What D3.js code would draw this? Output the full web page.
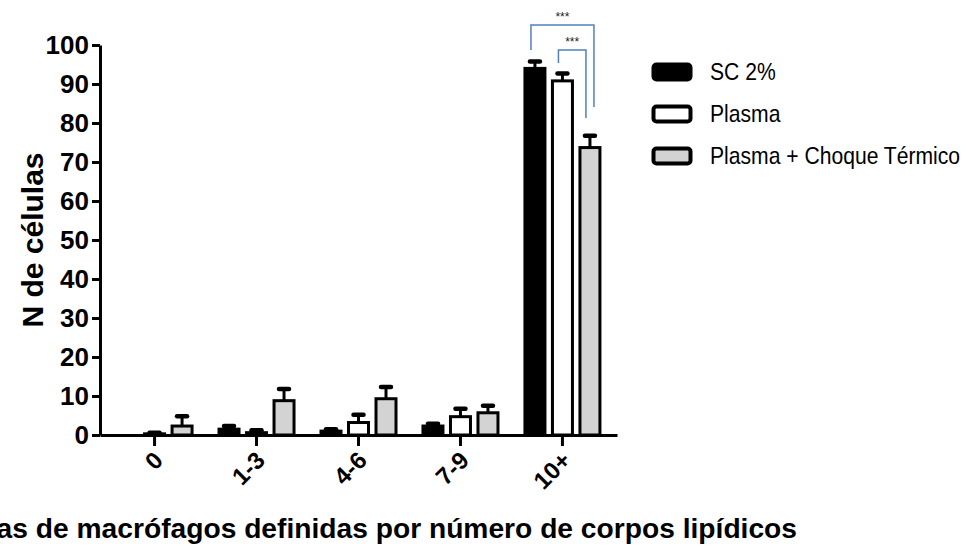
<!DOCTYPE html>
<html>
<head>
<meta charset="utf-8">
<script src="https://cdn.jsdelivr.net/npm/d3@7"></script>
<style>
  body { margin: 0; background: #fff; }
  svg { display: block; font-family: "Liberation Sans", Arial, sans-serif; }
</style>
</head>
<body>
<div id="chart"></div>
<script>

const categories = ["0", "1-3", "4-6", "7-9", "10+"]
const series = ["SC 2%", "Plasma", "Plasma + Choque Térmico"]
const yTicks = [0, 10, 20, 30, 40, 50, 60, 70, 80, 90, 100]

// mean values and error (upper only) per series
const sc2 = [0, 1.5, 1.0, 2.3, 94.0]
const sc2Err = [0, 0.8, 0.5, 0.6, 1.8]
const plasma = [0.3, 0.6, 3.2, 4.7, 90.8]
const plasmaErr = [0.3, 0.6, 2.0, 2.0, 1.9]
const choque = [2.3, 8.8, 9.3, 5.7, 73.7]
const choqueErr = [2.5, 3.0, 3.0, 1.8, 3.0]

const colors = ["#000000", "#ffffff", "#d3d3d3"]

const width = 976, height = 548

const svg = d3.select("#chart")
  .append("svg")
    .attr("width", width)
    .attr("height", height)

const x = d3.scaleBand()
  .domain(categories)
  .range([100, 617])
  .paddingInner(0)
  .paddingOuter(0.035)

const xSub = d3.scaleBand()
  .domain(series)
  .range([-37.5, 37.5])
  .paddingInner(0.273)

const y = d3.scaleLinear()
  .domain([0, 100])
  .range([435, 45])

const color = d3.scaleOrdinal().domain(series).range(colors)

// build rows from the arrays
const values = [sc2, plasma, choque]
const errs = [sc2Err, plasmaErr, choqueErr]
const rows = []
categories.forEach((c, i) => {
  series.forEach((s, j) => {
    rows.push({cat: c, key: s, value: values[j][i], err: errs[j][i]})
  })
})

// bars
const bars = svg.append("g")
bars.selectAll("g")
  .data(rows)
  .join("g")
    .attr("transform", d => `translate(${x(d.cat) + x.bandwidth() / 2 + xSub(d.key)},0)`)
  .each(function(d) {
    const g = d3.select(this)
    const bw = xSub.bandwidth()
    if (d.value > 0) {
      // error bar (upper only)
      g.append("line")
        .attr("x1", bw / 2).attr("x2", bw / 2)
        .attr("y1", y(d.value)).attr("y2", y(d.value + d.err))
        .attr("stroke", "#000").attr("stroke-width", 3)
      g.append("line")
        .attr("x1", bw / 2 - 5).attr("x2", bw / 2 + 5)
        .attr("y1", y(d.value + d.err)).attr("y2", y(d.value + d.err))
        .attr("stroke", "#000").attr("stroke-width", 4.5)
        .attr("stroke-linecap", "round")
      g.append("rect")
        .attr("x", 0)
        .attr("y", y(d.value))
        .attr("width", bw)
        .attr("height", y(0) - y(d.value))
        .attr("fill", color(d.key))
        .attr("stroke", "#000")
        .attr("stroke-width", 3)
    }
  })

// y axis
const yAxis = svg.append("g")
  .attr("transform", `translate(${x.range()[0]},0)`)
  .call(d3.axisLeft(y).tickValues(yTicks).tickSize(8).tickSizeOuter(0).tickPadding(3))
yAxis.selectAll("path, line").attr("stroke", "#000").attr("stroke-width", 3)
yAxis.selectAll("text")
  .attr("fill", "#000")
  .style("font-size", "26px")
  .style("font-weight", "bold")
  .style("font-family", "'Liberation Sans', Arial, sans-serif")

// x axis
const xAxis = svg.append("g")
  .attr("transform", `translate(0,${y(0)})`)
  .call(d3.axisBottom(x).tickSize(11).tickSizeOuter(0).tickFormat(""))
xAxis.selectAll("path, line").attr("stroke", "#000").attr("stroke-width", 3)

// rotated category labels
svg.append("g")
  .selectAll("text")
  .data(categories)
  .join("text")
    .attr("transform", d => `translate(${x(d) + x.bandwidth() / 2 - 2},${y(0) + 15}) rotate(-45)`)
    .attr("text-anchor", "end")
    .attr("dy", "0.7em")
    .style("font-size", "24px")
    .style("font-weight", "bold")
    .text(d => d)

// axis titles
svg.append("text")
  .attr("transform", "translate(43,240) rotate(-90)")
  .attr("text-anchor", "middle")
  .style("font-size", "30px")
  .style("font-weight", "bold")
  .text("N de células")

// the reference crops the start of this title at the left edge
svg.append("text")
  .attr("x", 797)
  .attr("y", 538)
  .attr("text-anchor", "end")
  .style("font-size", "28.2px")
  .style("font-weight", "bold")
  .text("Categorias de macrófagos definidas por número de corpos lipídicos")

// significance brackets
const cx = (cat, key) => x(cat) + x.bandwidth() / 2 + xSub(key) + xSub.bandwidth() / 2
const last = categories[categories.length - 1]
const brackets = [
  {from: series[0], to: series[2], top: 25, leftEnd: 50, rightEnd: 107, xl: -4, xr: 4},
  {from: series[1], to: series[2], top: 50, leftEnd: 63, rightEnd: 118, xl: -4, xr: -4}
]
brackets.forEach(b => {
  const x1 = cx(last, b.from) + b.xl, x2 = cx(last, b.to) + b.xr
  svg.append("path")
    .attr("d", `M${x1},${b.leftEnd}V${b.top}H${x2}V${b.rightEnd}`)
    .attr("fill", "none")
    .attr("stroke", "#4f81bd")
    .attr("stroke-width", 1.5)
  svg.append("text")
    .attr("x", (x1 + x2) / 2)
    .attr("y", b.top - 4)
    .attr("text-anchor", "middle")
    .style("font-size", "12px")
    .attr("fill", "#222")
    .text("***")
})

// legend
const legend = svg.append("g")
  .selectAll("g")
  .data(series)
  .join("g")
    .attr("transform", (d, i) => `translate(652,${63 + i * 42})`)
legend.append("rect")
  .attr("x", 1.5).attr("y", 1.5)
  .attr("width", 37).attr("height", 15)
  .attr("rx", 3)
  .attr("fill", d => color(d))
  .attr("stroke", "#000")
  .attr("stroke-width", 4)
legend.append("text")
  .attr("transform", "translate(58,9) scale(0.88,1)")
  .attr("dy", "0.35em")
  .style("font-size", "24px")
  .text(d => d)

</script>
</body>
</html>
